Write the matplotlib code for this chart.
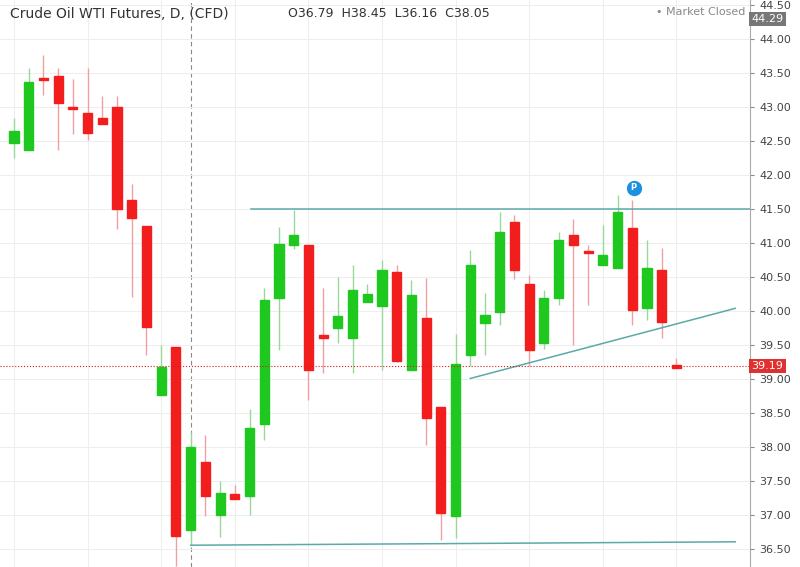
import matplotlib
matplotlib.use("Agg")
import matplotlib.pyplot as plt
import numpy as np

opens  = [42.47,42.37,43.41,43.46,42.98,42.91,42.84,43.00,41.63,41.25,38.76,39.47,36.78,37.78,37.00,37.31,
          37.28,38.34,40.19,40.97,40.97,39.65,39.75,39.60,40.13,40.07,40.57,39.13,39.90,38.59,36.99,39.35,
          39.82,39.99,41.31,40.40,39.53,40.19,41.12,40.86,40.68,40.63,41.22,40.04,40.60,39.21]
closes = [42.65,43.37,43.40,43.06,42.97,42.62,42.75,41.50,41.37,39.76,39.18,36.70,38.01,37.28,37.32,37.24,
          38.28,40.16,40.99,41.12,39.13,39.61,39.93,40.31,40.25,40.60,39.26,40.24,38.43,37.03,39.22,40.68,
          39.94,41.16,40.60,39.43,40.19,41.04,40.97,40.85,40.82,41.46,40.01,40.63,39.84,39.16]
highs  = [42.84,43.57,43.76,43.57,43.41,43.57,43.16,43.16,41.87,41.25,39.50,39.47,38.22,38.18,37.51,37.45,
          38.56,40.34,41.23,41.49,40.97,40.34,40.50,40.67,40.40,40.75,40.67,40.46,40.48,38.59,39.66,40.90,
          40.27,41.46,41.41,40.53,40.31,41.16,41.35,40.97,41.27,41.70,41.63,41.04,40.93,39.31]
lows   = [42.25,42.37,43.18,42.37,42.60,42.51,42.84,41.20,40.21,39.35,38.76,36.26,36.56,36.99,36.68,37.24,
          37.00,38.11,39.43,40.91,38.69,39.09,39.53,39.09,40.13,39.13,39.25,39.13,38.03,36.63,36.66,39.19,
          39.36,39.79,40.47,39.19,39.44,40.09,39.50,40.09,40.68,40.63,39.79,39.87,39.60,39.16]

fig = plt.figure(figsize=(8,5.67), dpi=100)
ax = fig.add_axes([0.0,0.0,0.9375,1.0])
up, dn = '#1ec81e', '#f21d1d'
for i,(o,c,h,l) in enumerate(zip(opens,closes,highs,lows)):
    col = up if c>=o else dn
    wc = '#9ad89a' if c>=o else '#f0a0a0'
    ax.vlines(i,l,h,color=wc,lw=1,zorder=2)
    b = max(abs(c-o),0.03)
    ax.bar(i,b,bottom=min(o,c),width=0.62,color=col,edgecolor=col,zorder=3)

ax.set_xlim(-0.95,50)
ax.set_ylim(36.24,44.57)
ticks = np.arange(36.5,44.51,0.5)
ax.set_yticks(ticks)
ax.yaxis.tick_right()
ax.set_yticklabels([f"{v:.2f}" for v in ticks],fontsize=8,color='#444444')
ax.tick_params(axis='y',length=3,color='#888888')
ax.set_xticks(np.arange(0,50,5))
ax.tick_params(axis='x',length=0,labelbottom=False)
ax.grid(color='#eeeeee',lw=0.8)
for s in ['top','left','bottom']:
    ax.spines[s].set_visible(False)
ax.spines['right'].set_color('#aaaaaa')

ax.plot([16.1,50],[41.50,41.50],color='#5aaaa8',lw=1.1,zorder=4)
ax.plot([12,49],[36.56,36.61],color='#5aaaa8',lw=1.1,zorder=4)
ax.plot([31,49],[39.01,40.04],color='#5aaaa8',lw=1.1,zorder=4)
ax.axhline(39.19,color='#d02020',lw=0.8,ls=':',zorder=4)
ax.axvline(12,color='#888888',lw=0.8,ls=(0,(4,3)),zorder=1)
ax.plot([42.1],[41.81],'o',ms=10,color='#1e90e0',zorder=5)
ax.text(42.1,41.81,'P',color='white',fontsize=6,ha='center',va='center',weight='bold',zorder=6)

ax.text(1.002,39.19,'39.19',transform=ax.get_yaxis_transform(),fontsize=8,color='white',va='center',
        bbox=dict(boxstyle='square,pad=0.2',fc='#e03030',ec='none'),clip_on=False)
ax.text(1.002,44.29,'44.29',transform=ax.get_yaxis_transform(),fontsize=8,color='white',va='center',
        bbox=dict(boxstyle='square,pad=0.2',fc='#777777',ec='none'),clip_on=False,zorder=10)

fig.text(0.012,0.987,'Crude Oil WTI Futures, D, (CFD)',fontsize=10,color='#333333',va='top')
fig.text(0.36,0.987,'O36.79  H38.45  L36.16  C38.05',fontsize=9,color='#333333',va='top')
fig.text(0.932,0.987,'• Market Closed',fontsize=8,color='#888888',va='top',ha='right')
fig.savefig('out.png',dpi=100)
